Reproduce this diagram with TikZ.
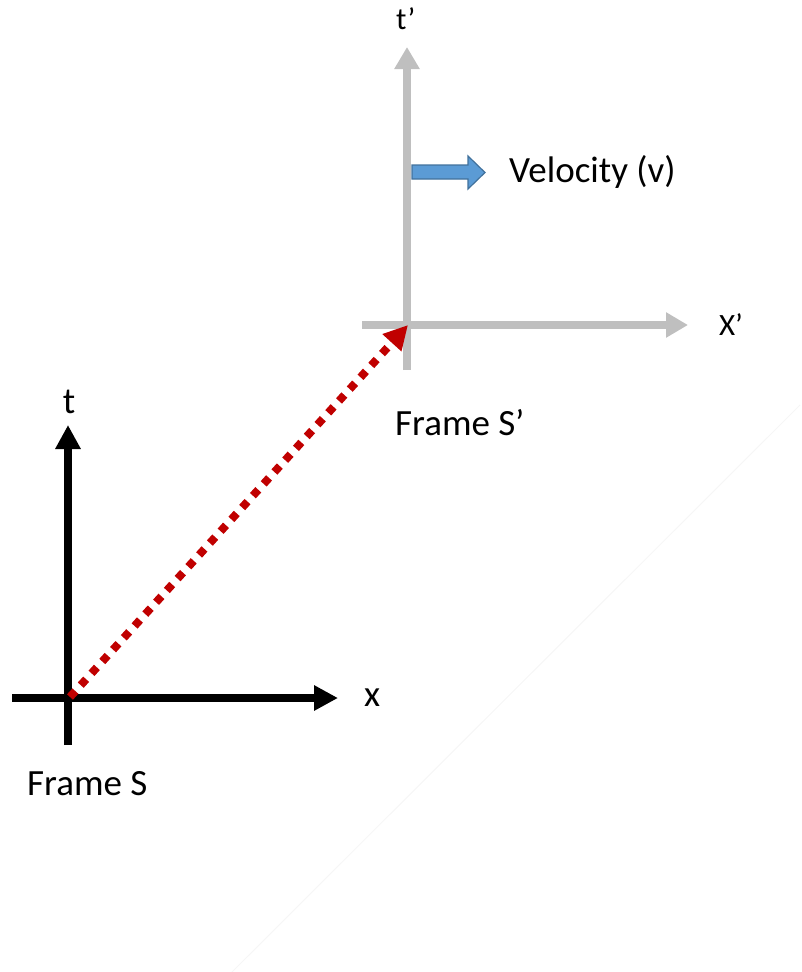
\documentclass[tikz,border=0pt]{standalone}
\usepackage{fontspec}
\setmainfont{Carlito}
\usetikzlibrary{arrows.meta}
\definecolor{axisgray}{HTML}{BFBFBF}
\definecolor{dotred}{HTML}{C00000}
\definecolor{velfill}{HTML}{5B9BD5}
\definecolor{veledge}{HTML}{41719C}
\begin{document}
\begin{tikzpicture}[x=1pt,y=-1pt,
  lbl/.style={inner sep=0pt, font=\fontsize{37}{44}\selectfont},
  lblsmall/.style={inner sep=0pt, font=\fontsize{31}{37}\selectfont},
  blackaxis/.style={line width=8pt, black, -{Triangle[length=24pt,width=24pt]}},
  grayaxis/.style={line width=8.5pt, axisgray, -{Triangle[length=22pt,width=24pt]}},
  reddots/.style={line width=8pt, dotred, dash pattern=on 8pt off 8pt, -{Triangle[length=24pt,width=24pt]}},
  velarrow/.style={fill=velfill, draw=veledge, line width=1.2pt, line join=miter},
  faint/.style={gray!7, line width=1pt}]
\useasboundingbox (0,0) rectangle (801,972);
% faint artefact line
\coordinate (f1) at (800,405);
\coordinate (f2) at (232,972);
\draw[faint] (f1) -- (f2);
% Frame S axes
\coordinate (Sx0) at (12,698);
\coordinate (Sx1) at (338,698);
\coordinate (Sy0) at (68,745);
\coordinate (Sy1) at (68,425);
\draw[blackaxis] (Sx0) -- (Sx1);
\draw[blackaxis] (Sy0) -- (Sy1);
% Frame S' axes
\coordinate (Px0) at (362,325);
\coordinate (Px1) at (688,325);
\coordinate (Py0) at (407,370);
\coordinate (Py1) at (407,47);
\draw[grayaxis] (Px0) -- (Px1);
\draw[grayaxis] (Py0) -- (Py1);
% velocity block arrow
\draw[velarrow] (412,165) -- (468,165) -- (468,156) -- (485,172.5) -- (468,189) -- (468,179) -- (412,179) -- cycle;
% red dotted displacement
\coordinate (So) at (70,697);
\coordinate (Po) at (408,325);
\draw[reddots] (So) -- (Po);
% labels
\node[lbl, anchor=base west] (xl) at (364,706) {x};
\node[lbl, anchor=base] (tl) at (69,413) {t};
\node[lblsmall, anchor=base west] (tpl) at (396,29) {t’};
\node[lblsmall, anchor=base west] (xpl) at (719,335) {X’};
\node[lbl, anchor=base west] (vel) at (509,182) {Velocity (v)};
\node[lbl, anchor=base west] (fs) at (27,795) {Frame S};
\node[lbl, anchor=base west] (fsp) at (395,435) {Frame S’};
\end{tikzpicture}
\end{document}
